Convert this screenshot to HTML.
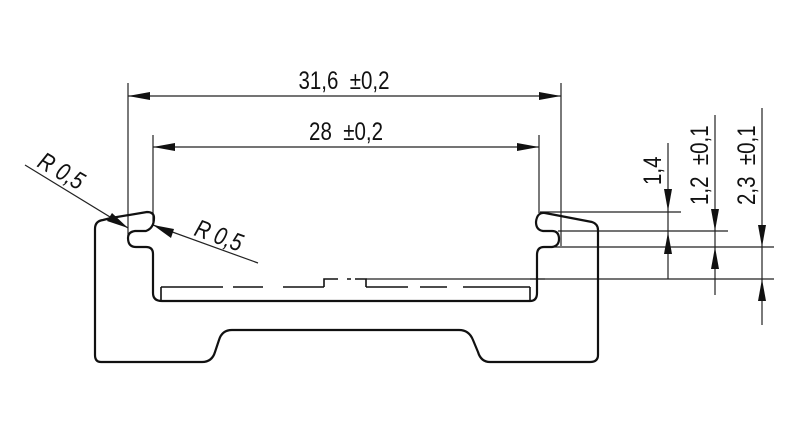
<!DOCTYPE html>
<html><head><style>
html,body{margin:0;padding:0;background:#fff;}
svg{display:block}
text{font-family:"Liberation Sans",sans-serif;font-size:25px;fill:#111}
</style></head><body>
<svg width="800" height="429" viewBox="0 0 800 429" xmlns="http://www.w3.org/2000/svg">
<g stroke="#222" stroke-width="1.2" fill="none">
<line x1="128" y1="83" x2="128" y2="236"/>
<line x1="561" y1="83" x2="561" y2="246"/>
<line x1="153" y1="135" x2="153" y2="222"/>
<line x1="539" y1="135" x2="539" y2="213"/>
<line x1="128" y1="96" x2="561" y2="96"/>
<line x1="153" y1="147" x2="539" y2="147"/>
<line x1="540" y1="212" x2="681" y2="212"/>
<line x1="558" y1="231" x2="728" y2="231"/>
<line x1="545" y1="247" x2="774" y2="247"/>
<line x1="530" y1="279" x2="774" y2="279"/>
<line x1="366" y1="279" x2="545" y2="279"/>
<line x1="668" y1="143" x2="668" y2="279"/>
<line x1="715" y1="115" x2="715" y2="295"/>
<line x1="762" y1="108" x2="762" y2="325"/>
<line x1="25" y1="165" x2="128" y2="228"/>
<line x1="153" y1="225" x2="258" y2="263"/>
</g>
<g fill="#111">
<polygon points="128,96 150,92 150,100"/>
<polygon points="561,96 539,92 539,100"/>
<polygon points="153,147 175,143 175,151"/>
<polygon points="539,147 517,143 517,151"/>
<polygon points="668,211 664,189 672,189"/>
<polygon points="668,232 664,254 672,254"/>
<polygon points="715,231 711,209 719,209"/>
<polygon points="715,247 711,269 719,269"/>
<polygon points="762,247 758,225 766,225"/>
<polygon points="762,279 758,301 766,301"/>
<polygon points="128,228 107,221 112,213"/>
<polygon points="153,225 174,229 171,238"/>
</g>
<g stroke="#111" stroke-width="2.2" fill="none" stroke-linejoin="round">
<path d="M111,218 L147,212 Q154,212 154,218 Q154,228 146,231 L135,231 Q128,232 128,238 Q128,247 136,247 L146,247 Q153,247 153,254 L153,293 Q153,301 162,301 L530,301 Q537,301 537,293 L537,255 Q537,247 544,247 L552,247 Q559,246 559,239 Q559,231 552,231 L543,231 Q536,230 536,222 Q537,212 545,213 L592,222 Q598,224 598,230 L598,355 Q598,362 590,362 L490,362 Q481,362 478,352 L473,340 Q469,330 459,330 L232,330 Q222,330 219,340 L215,352 Q212,362 202,362 L101,362 Q95,362 95,355 L95,229 Q95,221 103,220 Z"/>
</g>
<g stroke="#111" stroke-width="1.6" fill="none">
<line x1="161" y1="287" x2="161" y2="301"/>
<line x1="530" y1="287" x2="530" y2="301"/>
<path d="M161,287 H223 M233,287 H263 M283,287 H324 M366,287 H408 M420,287 H447 M463,287 H530"/>
<path d="M324,287 V279 H338 M347,279 H351 M355,279 H366 V287"/>
</g>
<text transform="translate(344,89) scale(0.82,1)" text-anchor="middle">31,6&#160;&#160;±0,2</text>
<text transform="translate(346,140) scale(0.82,1)" text-anchor="middle">28&#160;&#160;±0,2</text>
<text transform="translate(661,185) rotate(-90) scale(0.82,1)">1,4</text>
<text transform="translate(708,205) rotate(-90) scale(0.82,1)">1,2&#160;&#160;±0,1</text>
<text transform="translate(755,205) rotate(-90) scale(0.82,1)">2,3&#160;&#160;±0,1</text>
<text transform="translate(36,166) rotate(30) scale(0.82,1)" font-style="italic">R&#160;0,5</text>
<text transform="translate(193,235) rotate(20) scale(0.82,1)" font-style="italic">R&#160;0,5</text>
</svg>
</body></html>
